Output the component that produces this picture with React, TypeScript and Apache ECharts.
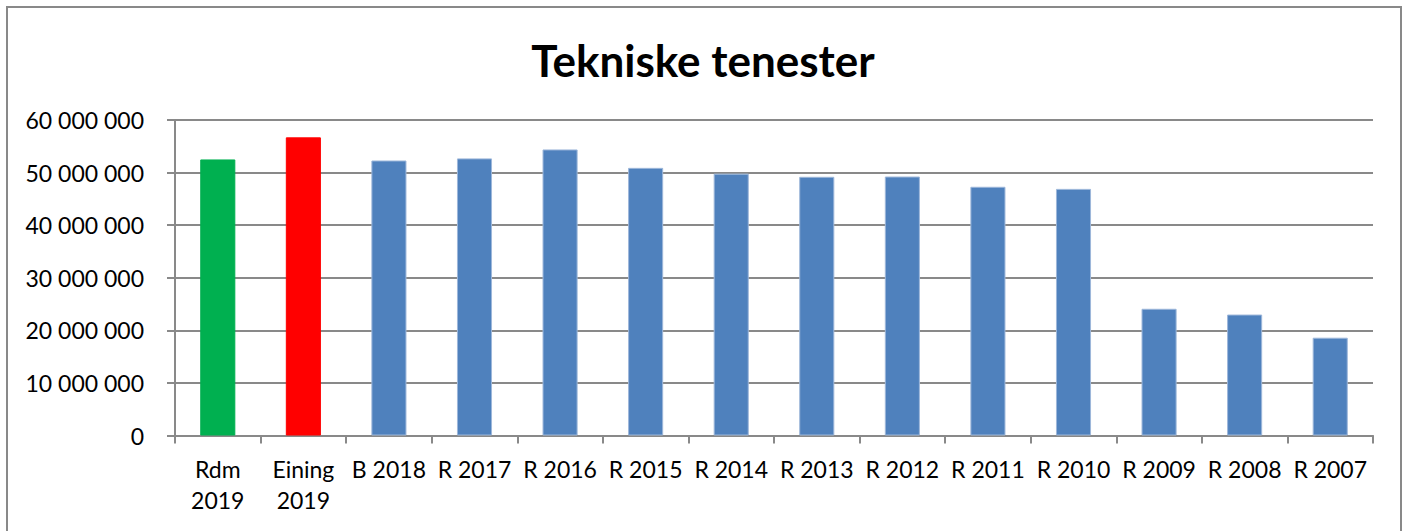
import React, { useEffect, useRef } from "react";
import * as echarts from "echarts";

const titleText = "Tekniske tenester";
const categories = [
  "Rdm\n2019",
  "Eining\n2019",
  "B 2018",
  "R 2017",
  "R 2016",
  "R 2015",
  "R 2014",
  "R 2013",
  "R 2012",
  "R 2011",
  "R 2010",
  "R 2009",
  "R 2008",
  "R 2007",
];
const values = [
  52500000, 56700000, 52300000, 52700000, 54400000, 50900000, 49800000,
  49200000, 49250000, 47300000, 46900000, 24100000, 23000000, 18600000,
];
const barColors = [
  "#00B050", "#FF0000", "#4F81BD", "#4F81BD", "#4F81BD", "#4F81BD", "#4F81BD",
  "#4F81BD", "#4F81BD", "#4F81BD", "#4F81BD", "#4F81BD", "#4F81BD", "#4F81BD",
];
const yMin = 0;
const yMax = 60000000;
const yInterval = 10000000;

function fmt(v: number): string {
  return String(Math.round(v)).replace(/\B(?=(\d{3})+(?!\d))/g, " ");
}

export default function App() {
  const ref = useRef<HTMLDivElement>(null);
  useEffect(() => {
    document.body.style.margin = "0";
    if (!ref.current) return;
    const chart = echarts.init(ref.current, undefined, { renderer: "svg" });
    const font = "Lato";
    const gray = "#898989";
    chart.setOption({
      animation: false,
      backgroundColor: "#ffffff",
      title: {
        text: titleText,
        left: "center",
        top: 33,
        textStyle: {
          fontFamily: font,
          fontWeight: "bold",
          fontSize: 44,
          color: "#000000",
        },
      },
      graphic: [
        {
          type: "rect",
          shape: { x: 7, y: 7, width: 1394, height: 600 },
          style: { fill: "none", stroke: gray, lineWidth: 2 },
          silent: true,
        },
      ],
      grid: { left: 175, right: 33, top: 120, bottom: 95.5, containLabel: false },
      xAxis: {
        type: "category",
        data: categories,
        axisLine: { show: true, lineStyle: { color: gray, width: 2 } },
        axisTick: { show: true, length: 8, lineStyle: { color: gray, width: 2 } },
        axisLabel: {
          interval: 0,
          margin: 18,
          fontFamily: font,
          fontSize: 23,
          color: "#000000",
          lineHeight: 31,
        },
        splitLine: { show: false },
      },
      yAxis: {
        type: "value",
        min: yMin,
        max: yMax,
        interval: yInterval,
        axisLine: { show: true, lineStyle: { color: gray, width: 2 } },
        axisTick: { show: true, length: 8, lineStyle: { color: gray, width: 2 } },
        axisLabel: {
          margin: 31,
          fontFamily: font,
          fontSize: 23,
          color: "#000000",
          formatter: (v: number) => fmt(v),
        },
        splitLine: { show: true, lineStyle: { color: gray, width: 2 } },
      },
      series: [
        {
          type: "bar",
          barWidth: "41%",
          data: values.map((v, i) => ({
            value: v,
            itemStyle: {
              color: barColors[i],
              borderColor: barColors[i] === "#4F81BD" ? "#9db7da" : barColors[i],
              borderWidth: 1,
            },
          })),
        },
      ],
    });
    return () => chart.dispose();
  }, []);
  return <div ref={ref} style={{ width: 1406, height: 531 }} />;
}
